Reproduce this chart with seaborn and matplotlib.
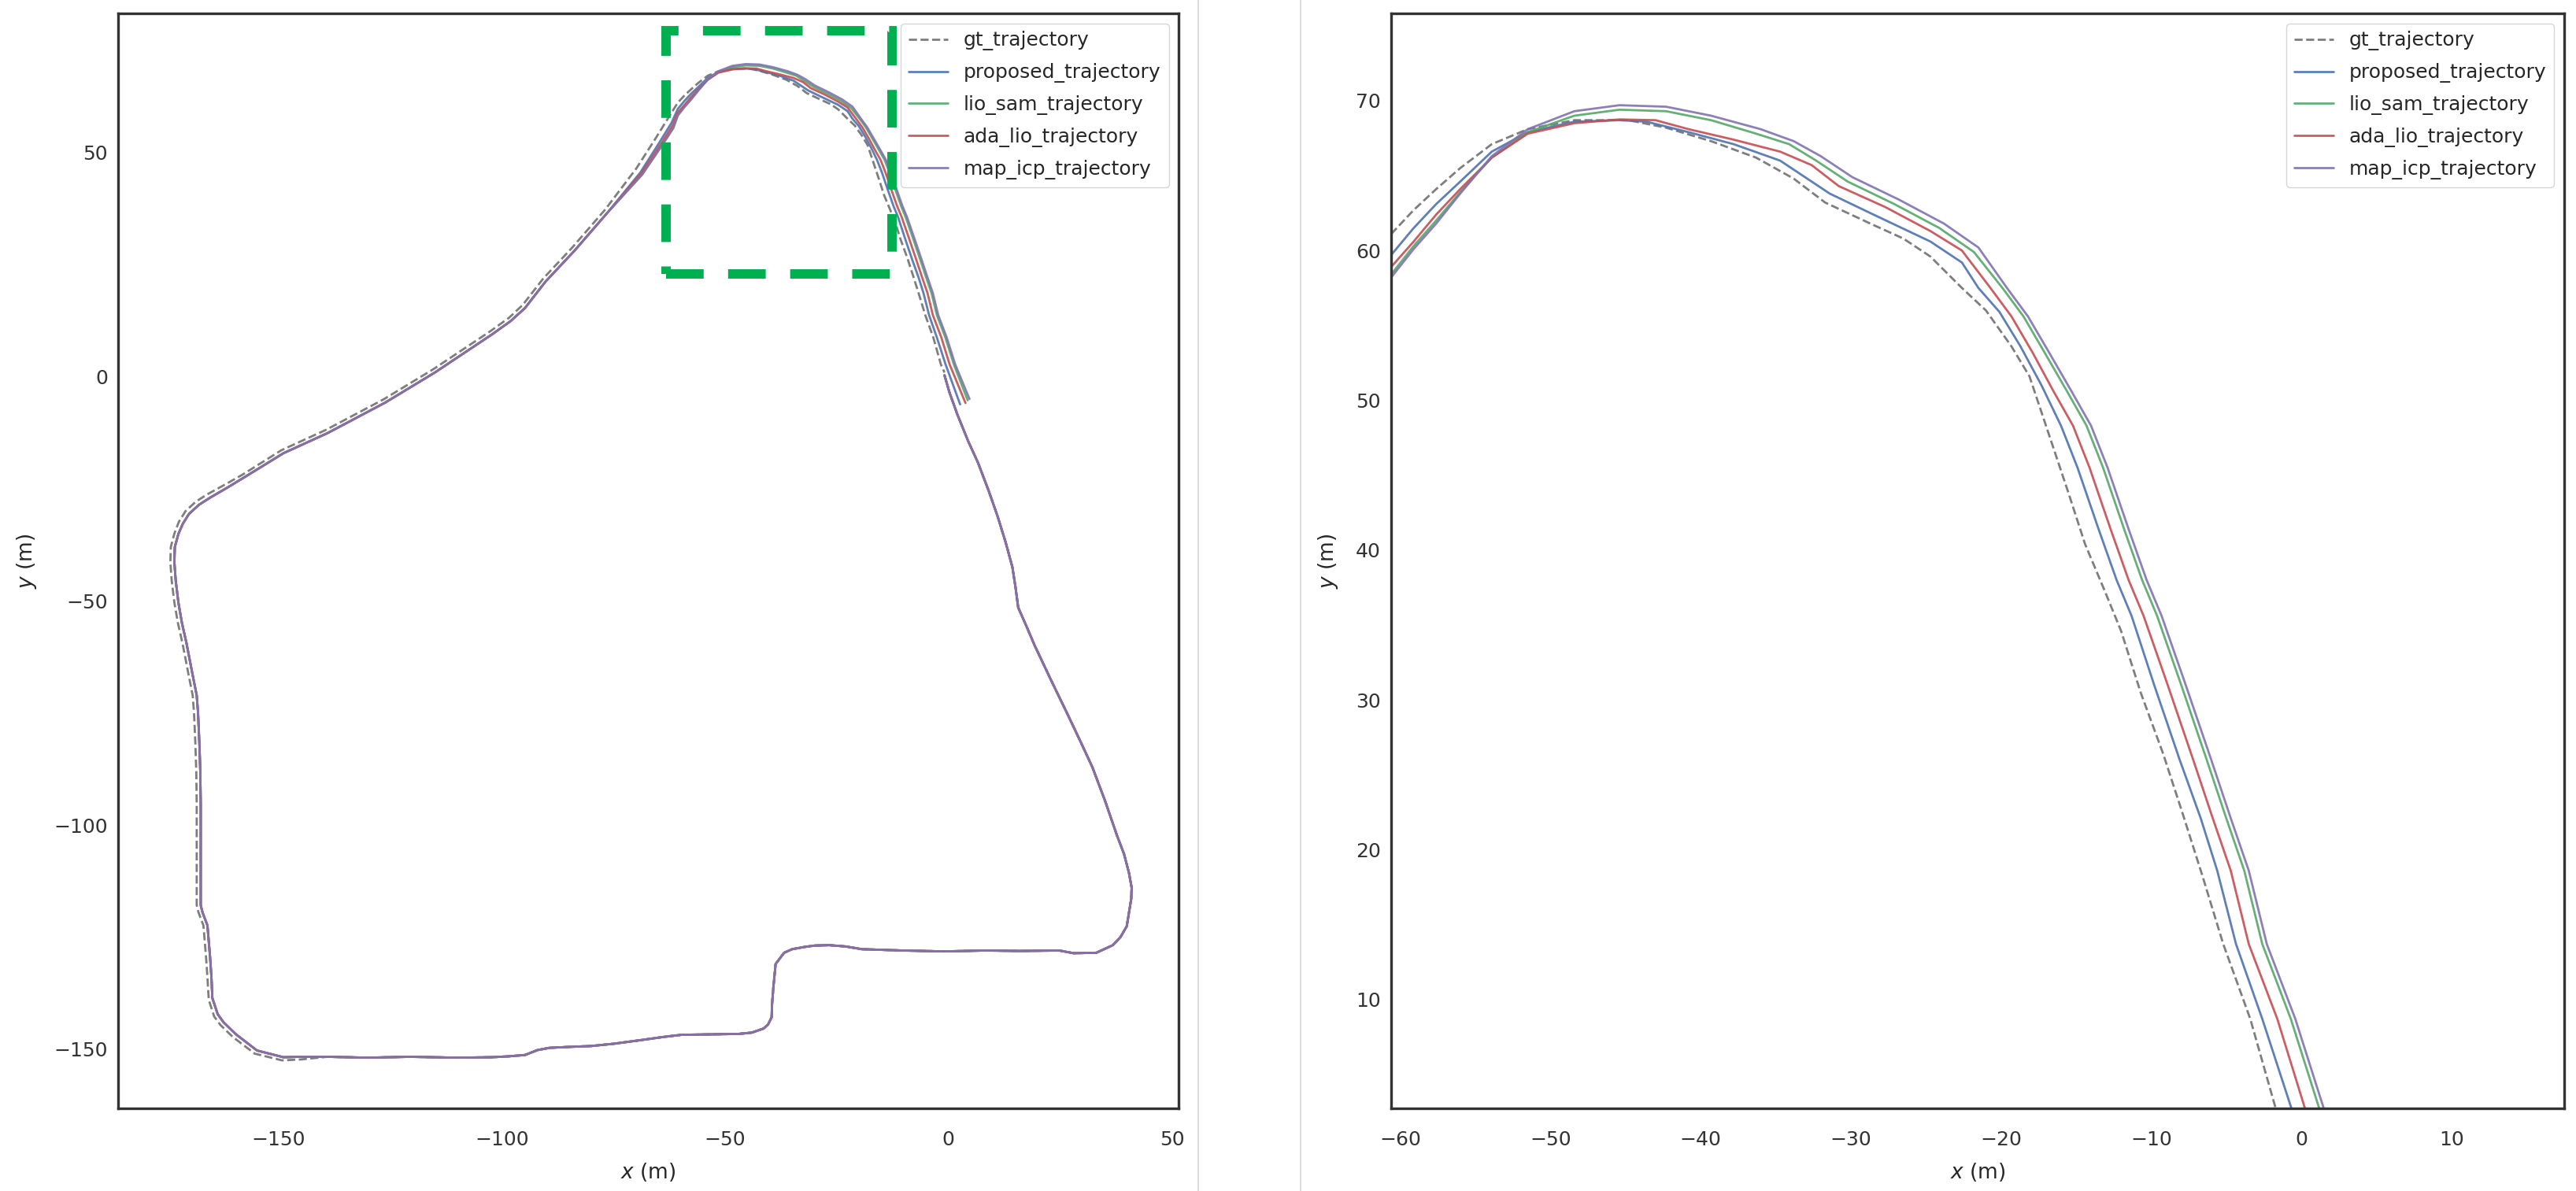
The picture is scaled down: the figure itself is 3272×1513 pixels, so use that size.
import numpy as np
import pandas as pd
import seaborn as sns
import matplotlib.pyplot as plt
from matplotlib.patches import Rectangle
from matplotlib.lines import Line2D

# right side + bottom of the loop, shared by every trajectory (start at the origin)
common_loop = [
    (-0.9, 0.3), (0.2, -3.5), (2.0, -8.5), (4.4, -14.4), (6.6, -19.2), (9.0, -25.5),
    (11.0, -31.2), (12.8, -37.0), (14.3, -42.5), (15.0, -47.0), (15.6, -51.5), (17.5, -55.8),
    (19.3, -60.0), (23.0, -67.8), (26.6, -75.2), (29.5, -81.3), (32.2, -87.1), (35.0, -94.5),
    (37.7, -102.3), (39.3, -106.5), (40.4, -110.7), (41.0, -114.0), (40.9, -116.5), (39.9, -122.6),
    (38.5, -125.0), (36.8, -126.8), (33.1, -128.5), (28.0, -128.6), (24.8, -128.0), (16.0, -128.1),
    (8.2, -128.0), (-1.0, -128.2), (-10.2, -128.0), (-19.4, -127.7), (-23.0, -127.1), (-26.7, -126.8),
    (-30.0, -126.9), (-32.2, -127.2), (-35.0, -127.7), (-36.8, -128.5), (-38.7, -131.0), (-39.2, -136.1),
    (-39.5, -140.0), (-39.6, -142.9), (-40.4, -144.5), (-41.4, -145.4), (-44.0, -146.3), (-47.0, -146.6),
    (-53.0, -146.7), (-59.8, -146.8), (-64.0, -147.3), (-69.0, -148.0), (-75.0, -148.8), (-80.0, -149.3),
    (-85.0, -149.5), (-89.3, -149.7), (-92.0, -150.2), (-94.8, -151.3), (-98.5, -151.6), (-102.2, -151.8),
    (-110.0, -151.9), (-120.6, -151.7), (-130.0, -151.9), (-139.0, -151.7),
]

# left side + diagonal, estimated trajectories
est_left = [
    (-145.0, -151.7), (-148.9, -151.8), (-154.8, -150.3), (-159.5, -146.7), (-162.3, -144.0),
    (-163.6, -142.2), (-164.8, -138.6), (-165.0, -134.0), (-165.3, -129.6), (-165.9, -122.4),
    (-167.0, -119.5), (-167.4, -117.9), (-167.4, -108.8), (-167.4, -95.4), (-167.5, -88.0),
    (-167.7, -81.9), (-168.0, -75.0), (-168.3, -71.1), (-169.2, -66.6), (-170.6, -59.4),
    (-171.6, -55.0), (-172.4, -50.4), (-173.0, -45.5), (-173.3, -41.4), (-173.2, -38.0),
    (-172.4, -35.1), (-171.4, -32.8), (-170.0, -30.6), (-167.8, -28.6), (-165.3, -27.0),
    (-161.5, -24.8), (-157.7, -22.5), (-148.9, -17.1), (-139.0, -12.6), (-126.1, -5.8),
    (-115.0, 0.9), (-102.2, 9.4), (-98.0, 12.4), (-94.8, 15.3), (-90.2, 21.2), (-83.8, 28.0),
    (-76.4, 36.5),
]

# left side + diagonal, ground truth (slightly outside)
gt_left = [
    (-145.0, -152.3), (-149.2, -152.5), (-155.3, -151.0), (-160.2, -147.3), (-163.0, -144.6),
    (-164.4, -142.7), (-165.6, -139.0), (-165.9, -134.0), (-166.2, -129.6), (-166.8, -122.4),
    (-167.9, -119.5), (-168.3, -117.9), (-168.3, -108.8), (-168.3, -95.4), (-168.4, -88.0),
    (-168.6, -81.9), (-168.9, -75.0), (-169.2, -71.1), (-170.1, -66.6), (-171.5, -59.4),
    (-172.5, -55.0), (-173.3, -50.4), (-173.9, -45.5), (-174.2, -41.4), (-174.1, -38.0),
    (-173.3, -35.0), (-172.3, -32.4), (-170.8, -30.0), (-168.5, -27.9), (-166.0, -26.3),
    (-162.0, -24.1), (-158.1, -21.9), (-149.3, -16.4), (-139.4, -11.9), (-126.5, -5.1),
    (-115.4, 1.6), (-102.6, 10.1), (-98.4, 13.1), (-95.3, 16.0), (-90.7, 21.9), (-84.3, 28.7),
    (-76.9, 37.2),
]

# last part of each trajectory (over the hill and back down), where they drift apart
gt_tail = [
    (-69.9, 46.4), (-65.4, 53.4), (-62.8, 57.6), (-60.6, 61.1), (-59.1, 62.7), (-57.6, 64.1),
    (-56.0, 65.5), (-53.9, 67.1), (-51.5, 68.1), (-48.4, 68.7), (-44.8, 68.7), (-42.3, 68.2),
    (-39.3, 67.3), (-36.3, 66.2), (-33.8, 64.8), (-31.7, 63.2), (-28.7, 61.8), (-26.5, 60.8),
    (-24.7, 59.6), (-22.6, 57.5), (-21.0, 56.0), (-19.3, 53.6), (-18.1, 51.6), (-17.0, 48.3),
    (-16.4, 46.5), (-15.5, 43.8), (-14.4, 40.4), (-13.1, 37.3), (-12.0, 34.6), (-10.7, 30.5),
    (-9.2, 26.4), (-7.9, 22.4), (-6.6, 18.3), (-5.2, 13.7), (-3.4, 8.7), (-1.7, 2.7), (-0.9, 0.9),
]
proposed_tail = [
    (-69.0, 45.5), (-64.6, 52.4), (-62.0, 56.6), (-60.6, 59.7), (-59.1, 61.5), (-57.6, 63.1),
    (-56.0, 64.6), (-53.9, 66.6), (-51.5, 67.9), (-48.4, 68.6), (-45.4, 68.7), (-43.6, 68.6),
    (-40.8, 67.9), (-37.8, 67.1), (-34.7, 66.0), (-32.6, 64.6), (-31.4, 63.8), (-28.7, 62.5),
    (-24.7, 60.6), (-22.6, 59.2), (-21.5, 57.5), (-20.1, 55.9), (-18.7, 53.6), (-17.3, 51.0),
    (-16.0, 48.3), (-14.9, 45.5), (-13.5, 41.4), (-12.3, 38.0), (-11.3, 35.6), (-9.8, 31.0),
    (-8.1, 26.0), (-6.7, 22.1), (-5.6, 18.6), (-4.35, 13.7), (-2.6, 8.7), (-0.65, 2.7), (2.6, -6.2),
]
lio_sam_tail = [
    (-68.6, 45.1), (-64.1, 51.7), (-61.6, 55.6), (-60.6, 58.4), (-59.1, 60.3), (-57.6, 62.0),
    (-56.0, 63.9), (-53.9, 66.2), (-51.5, 67.9), (-48.4, 69.0), (-45.4, 69.4), (-42.3, 69.3),
    (-39.3, 68.7), (-36.3, 67.8), (-34.1, 67.1), (-32.3, 66.0), (-30.2, 64.6), (-27.1, 63.1),
    (-24.1, 61.5), (-21.8, 59.9), (-19.9, 57.5), (-18.5, 55.6), (-17.1, 53.2), (-15.6, 50.6),
    (-14.3, 48.3), (-13.2, 45.5), (-11.8, 41.4), (-10.6, 38.0), (-9.6, 35.6), (-8.0, 31.0),
    (-6.3, 26.0), (-5.0, 22.1), (-3.8, 18.6), (-2.6, 13.7), (-0.7, 8.7), (1.2, 2.7), (4.3, -5.3),
]
ada_lio_tail = [
    (-68.8, 45.3), (-64.3, 52.0), (-61.8, 56.0), (-60.6, 58.9), (-59.1, 60.6), (-57.6, 62.4),
    (-56.0, 64.1), (-53.9, 66.2), (-51.5, 67.8), (-48.4, 68.5), (-45.4, 68.75), (-43.0, 68.7),
    (-40.8, 68.1), (-37.8, 67.4), (-34.7, 66.6), (-32.6, 65.7), (-30.8, 64.3), (-27.7, 62.9),
    (-24.7, 61.3), (-22.6, 60.0), (-20.7, 57.5), (-19.3, 55.6), (-17.9, 53.2), (-16.5, 50.6),
    (-15.2, 48.3), (-14.1, 45.5), (-12.7, 41.4), (-11.5, 38.0), (-10.5, 35.6), (-8.9, 31.0),
    (-7.2, 26.0), (-5.9, 22.1), (-4.7, 18.6), (-3.5, 13.7), (-1.6, 8.7), (0.25, 2.7), (3.8, -5.9),
]
map_icp_tail = [
    (-68.6, 45.0), (-64.1, 51.6), (-61.6, 55.4), (-60.6, 58.2), (-59.1, 60.1), (-57.6, 61.8),
    (-56.0, 63.8), (-53.9, 66.3), (-51.5, 68.1), (-48.4, 69.3), (-45.4, 69.7), (-42.3, 69.6),
    (-39.3, 69.0), (-36.0, 68.1), (-33.8, 67.3), (-32.0, 66.3), (-29.9, 64.9), (-26.8, 63.4),
    (-23.8, 61.8), (-21.5, 60.2), (-19.6, 57.5), (-18.2, 55.6), (-16.8, 53.2), (-15.3, 50.6),
    (-14.0, 48.3), (-12.9, 45.5), (-11.5, 41.4), (-10.3, 38.0), (-9.3, 35.6), (-7.7, 31.0),
    (-6.0, 26.0), (-4.7, 22.1), (-3.5, 18.6), (-2.3, 13.7), (-0.4, 8.7), (1.5, 2.7), (4.7, -5.0),
]

names = ["gt_trajectory", "proposed_trajectory", "lio_sam_trajectory",
         "ada_lio_trajectory", "map_icp_trajectory"]
colors = ["#707070", "#4C72B0", "#55A868", "#C44E52", "#8172B2"]
zoom_box = (-63.2, 22.9, 50.6, 54.2)  # x, y, w, h of the green box

paths = {
    "gt_trajectory": common_loop + gt_left + gt_tail,
    "proposed_trajectory": common_loop + est_left + proposed_tail,
    "lio_sam_trajectory": common_loop + est_left + lio_sam_tail,
    "ada_lio_trajectory": common_loop + est_left + ada_lio_tail,
    "map_icp_trajectory": common_loop + est_left + map_icp_tail,
}
frames = []
for name in names:
    arr = np.array(paths[name])
    frames.append(pd.DataFrame({"x": arr[:, 0], "y": arr[:, 1], "traj": name}))
df = pd.concat(frames, ignore_index=True)

sns.set_theme(style="white")
plt.rcParams['font.family'] = ['DejaVu Sans']

fig = plt.figure(figsize=(32.73, 15.13), dpi=100)
ax1 = fig.add_axes([150 / 3273, 105 / 1513, 1347 / 3273, 1391 / 1513])
ax2 = fig.add_axes([1767 / 3273, 105 / 1513, 1490 / 3273, 1391 / 1513])

dash_map = {n: "" for n in names}
dash_map["gt_trajectory"] = (3.7, 1.6)

for ax in (ax1, ax2):
    sns.lineplot(data=df, x="x", y="y", hue="traj", style="traj", hue_order=names,
                 style_order=names, palette=colors, dashes=dash_map, sort=False,
                 estimator=None, linewidth=2.0, alpha=0.9, ax=ax)
    leg = ax.get_legend()
    handles = leg.legend_handles
    labels = [t.get_text() for t in leg.get_texts()]
    leg.remove()
    ax.legend(handles, labels, loc="upper right", fontsize=18, frameon=True,
              labelspacing=0.63)
    ax.set_xlabel("$x$ (m)", fontsize=19, color=".15", labelpad=11)
    ax.set_ylabel("$y$ (m)", fontsize=19, color=".15", labelpad=14)
    ax.tick_params(labelsize=18, colors=".2")
    ax.tick_params(axis="x", pad=14)
    for sp in ax.spines.values():
        sp.set_linewidth(2.4)
        sp.set_color("#333333")

ax1.set_xlim(-185.9, 51.5)
ax1.set_ylim(-163.2, 81.0)
ax1.set_xticks([-150, -100, -50, 0, 50])
ax1.set_yticks([-150, -100, -50, 0, 50])
ax1.add_patch(Rectangle(zoom_box[:2], zoom_box[2], zoom_box[3], fill=False,
                        edgecolor="#00B050", linewidth=8.6, linestyle=(0, (4, 2.6)), zorder=5))

ax2.set_xlim(-60.6, 17.5)
ax2.set_ylim(2.73, 75.83)
ax2.set_xticks([-60, -50, -40, -30, -20, -10, 0, 10])
ax2.set_yticks([10, 20, 30, 40, 50, 60, 70])

# thin separators between the two panels
for xp in (1522, 1652):
    fig.add_artist(Line2D([xp / 3273, xp / 3273], [0, 1], color="#d6d6d6", linewidth=1.2))

fig.savefig("out.png", dpi=100)
